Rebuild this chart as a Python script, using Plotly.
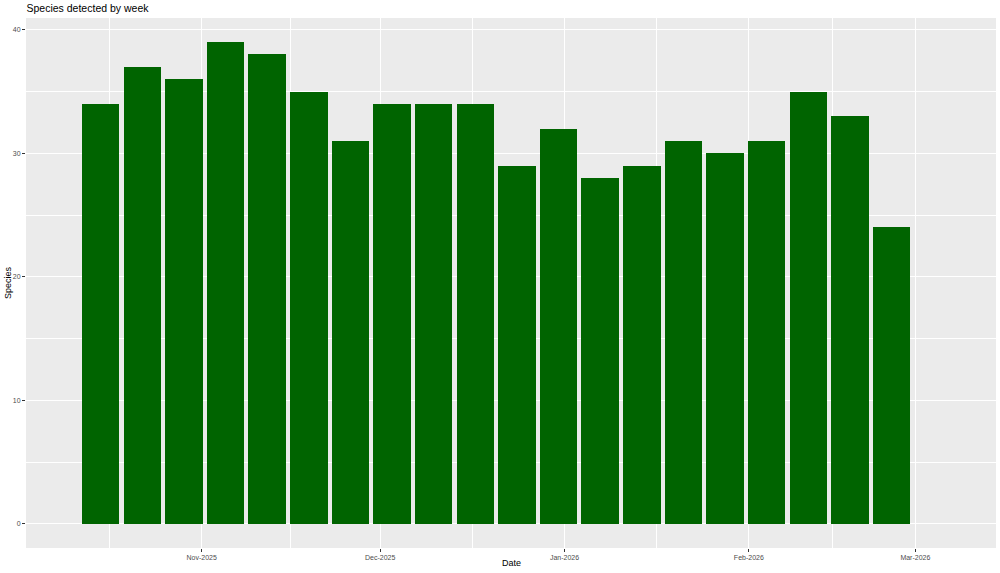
import plotly.graph_objects as go

# Data
week_dates = ["2025-10-15", "2025-10-22", "2025-10-29", "2025-11-05", "2025-11-12",
              "2025-11-19", "2025-11-26", "2025-12-03", "2025-12-10", "2025-12-17",
              "2025-12-24", "2025-12-31", "2026-01-07", "2026-01-14", "2026-01-21",
              "2026-01-28", "2026-02-04", "2026-02-11", "2026-02-18", "2026-02-25"]
species = [34, 37, 36, 39, 38, 35, 31, 34, 34, 34, 29, 32, 28, 29, 31, 30, 31, 35, 33, 24]

major_x = ["2025-11-01", "2025-12-01", "2026-01-01", "2026-02-01", "2026-03-01"]
major_x_labels = ["Nov-2025", "Dec-2025", "Jan-2026", "Feb-2026", "Mar-2026"]
minor_x = ["2025-10-16 12:00", "2025-11-16", "2025-12-16 12:00", "2026-01-16 12:00", "2026-02-15"]
major_y = [0, 10, 20, 30, 40]
minor_y = [5, 15, 25, 35]

BAR_WIDTH_MS = 0.9 * 7 * 24 * 3600 * 1000

W, H = 1000, 573
ML, MR, MT, MB = 26, 4, 18, 25

fig = go.Figure()
fig.add_trace(go.Bar(
    x=week_dates, y=species,
    width=[BAR_WIDTH_MS] * len(species),
    marker=dict(color="#006400", line=dict(width=0)),
    hovertemplate="%{x|%Y-%m-%d}: %{y}<extra></extra>",
))

font_family = "Liberation Sans, Arial, sans-serif"

fig.update_layout(
    width=W, height=H,
    margin=dict(l=ML, r=MR, t=MT, b=MB, autoexpand=False),
    paper_bgcolor="white",
    plot_bgcolor="#EBEBEB",
    showlegend=False,
    bargap=0,
    font=dict(family=font_family, color="#000000"),
    title=dict(text="Species detected by week", x=26.5 / W, xanchor="left",
               xref="container", yref="container", y=1 - 8.5 / H, yanchor="middle",
               font=dict(size=10.5, color="#000000", family=font_family)),
    xaxis=dict(
        type="date", automargin=False,
        range=["2025-10-02 10:48", "2026-03-14 13:26"],
        tickmode="array", tickvals=major_x, ticktext=major_x_labels,
        ticks="outside", ticklen=3, tickwidth=1, tickcolor="#333333",
        tickfont=dict(size=7, color="#4D4D4D", family=font_family),
        showgrid=True, gridcolor="white", gridwidth=1.1,
        minor=dict(tickmode="array", tickvals=minor_x, showgrid=True,
                   gridcolor="white", gridwidth=0.5, ticks=""),
        zeroline=False, showline=False,
    ),
    yaxis=dict(
        automargin=False,
        range=[-1.95, 40.95],
        tickmode="array", tickvals=major_y, ticktext=[str(v) for v in major_y],
        ticks="outside", ticklen=3, tickwidth=1, tickcolor="#333333",
        tickfont=dict(size=7, color="#4D4D4D", family=font_family),
        showgrid=True, gridcolor="white", gridwidth=1.1,
        minor=dict(tickmode="array", tickvals=minor_y, showgrid=True,
                   gridcolor="white", gridwidth=0.5, ticks=""),
        zeroline=False, showline=False,
    ),
    annotations=[
        dict(text="Date", xref="paper", yref="paper", x=0.5,
             y=-(563 - (H - MB)) / (H - MT - MB), xanchor="center", yanchor="middle",
             showarrow=False, font=dict(size=9, color="#000000", family=font_family)),
        dict(text="Species", xref="paper", yref="paper",
             x=-(ML - 8) / (W - ML - MR), y=0.5, xanchor="center", yanchor="middle",
             textangle=-90, showarrow=False,
             font=dict(size=9, color="#000000", family=font_family)),
    ],
)

fig.write_html("out.html",
               config={"displayModeBar": False},
               post_script="document.body.style.margin='0px';document.body.style.overflow='hidden';")
